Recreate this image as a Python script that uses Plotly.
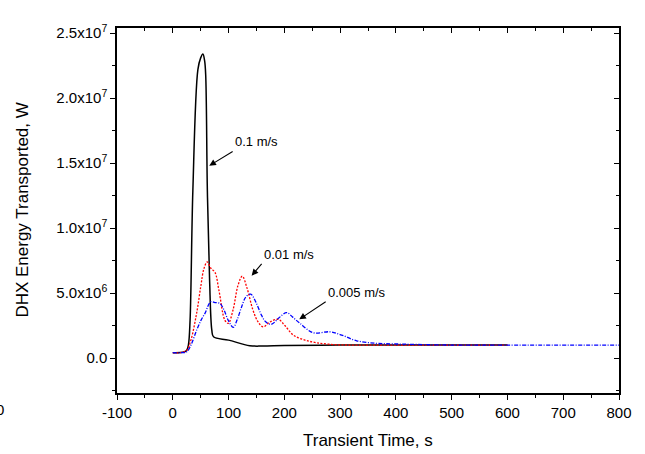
import plotly.graph_objects as go

# ---- data ----
t_01 = [0, 20, 25, 28, 31, 36, 45, 50, 54, 57, 59, 62, 66, 70, 73, 100, 138, 160, 200, 300, 400, 600]
e_01 = [0.41e6, 0.46e6, 0.6e6, 1.0e6, 2.9e6, 12.9e6, 22.2e6, 23.1e6, 23.4e6, 22.9e6, 21.8e6,
        12.9e6, 6.0e6, 2.15e6, 1.64e6, 1.38e6, 0.95e6, 0.92e6, 0.96e6, 1.0e6, 1.0e6, 1.0e6]

t_001 = [0, 13, 25, 32.6, 42.8, 50.5, 56, 61.8, 68.5, 75.6, 82.8, 93.5, 99.5, 108, 117, 124.6,
         133, 143.7, 152.7, 162, 174, 189, 201, 216, 237, 258, 287, 318, 450, 600]
e_001 = [0.41e6, 0.42e6, 0.6e6, 1.4e6, 3.46e6, 5.6e6, 6.9e6, 7.4e6, 6.9e6, 6.6e6, 5.2e6, 2.9e6,
         2.67e6, 3.7e6, 5.6e6, 6.3e6, 5.4e6, 3.7e6, 2.8e6, 2.4e6, 2.77e6, 2.98e6, 2.5e6, 1.77e6,
         1.38e6, 1.18e6, 1.04e6, 1.0e6, 1.0e6, 1.0e6]

t_0005 = [0, 13, 25, 32.6, 42.8, 50.5, 57.7, 68, 75.6, 84.6, 91.8, 99.5, 108.4, 115, 123.5, 131,
          139.6, 149, 159, 167, 177, 190, 204, 215, 228, 251.8, 281.7, 302.7, 329.6, 365.4,
          394.6, 496.8, 600, 800]
e_0005 = [0.41e6, 0.41e6, 0.48e6, 1.0e6, 2.15e6, 2.9e6, 3.44e6, 4.33e6, 4.27e6, 4.2e6, 3.7e6,
          2.9e6, 2.36e6, 2.9e6, 3.95e6, 4.7e6, 4.92e6, 4.3e6, 3.3e6, 2.77e6, 2.6e6, 3.08e6, 3.5e6,
          3.15e6, 2.67e6, 1.95e6, 2.02e6, 1.77e6, 1.33e6, 1.13e6, 1.09e6, 1.0e6, 1.0e6, 1.0e6]

x_ticks = [-100, 0, 100, 200, 300, 400, 500, 600, 700, 800]
x_tick_labels = ["-100", "0", "100", "200", "300", "400", "500", "600", "700", "800"]
y_ticks = [0, 5e6, 1e7, 1.5e7, 2e7, 2.5e7]
y_tick_labels = ["0.0", "5.0x10<sup>6</sup>", "1.0x10<sup>7</sup>", "1.5x10<sup>7</sup>",
                 "2.0x10<sup>7</sup>", "2.5x10<sup>7</sup>"]
x_range = [-100, 800]
y_range = [-2.69e6, 2.54e7]

labels = ["0.1 m/s", "0.01 m/s", "0.005 m/s"]
arrow_head = [(65.4, 14.8e6), (141.4, 6.34e6), (226.8, 2.98e6)]

FONT = "Liberation Sans, Arial, sans-serif"

fig = go.Figure()
fig.add_trace(go.Scatter(x=t_01, y=e_01, mode="lines", line=dict(color="black", width=1.5),
                         line_shape="spline", showlegend=False))
fig.add_trace(go.Scatter(x=t_001, y=e_001, mode="lines",
                         line=dict(color="#ff0000", width=1.3, dash="2px,1.5px"),
                         line_shape="spline", showlegend=False))
fig.add_trace(go.Scatter(x=t_0005, y=e_0005, mode="lines",
                         line=dict(color="#0000ff", width=1.3, dash="4px,1.5px,1px,1.5px"),
                         line_shape="spline", showlegend=False))
# dummy trace for mirrored top/right axes
fig.add_trace(go.Scatter(x=[], y=[], xaxis="x2", yaxis="y2", showlegend=False))

x_minor = [v + 50 for v in x_ticks[:-1]]
y_minor = [-2.5e6] + [v + 2.5e6 for v in y_ticks]

common = dict(showgrid=False, zeroline=False, linecolor="black", linewidth=1.5,
              tickcolor="black", tickwidth=1.2)
fig.update_layout(
    width=645, height=454,
    margin=dict(l=117, r=26, t=28, b=61),
    paper_bgcolor="white", plot_bgcolor="white",
    font=dict(family=FONT, size=15, color="black"),
    xaxis=dict(range=x_range, tickmode="array", tickvals=x_ticks, ticktext=x_tick_labels,
               ticks="outside", ticklen=5,
               minor=dict(tickvals=x_minor, ticks="outside", ticklen=3, tickcolor="black"),
               showline=True, **common),
    yaxis=dict(range=y_range, tickmode="array", tickvals=y_ticks, ticktext=y_tick_labels,
               ticks="outside", ticklen=5,
               minor=dict(tickvals=y_minor, ticks="outside", ticklen=3, tickcolor="black"),
               showline=True, **common),
    xaxis2=dict(range=x_range, overlaying="x", side="top", tickmode="array", tickvals=x_ticks,
                ticks="inside", ticklen=5, showticklabels=False,
                minor=dict(tickvals=x_minor, ticks="inside", ticklen=3, tickcolor="black"),
                showline=True, **common),
    yaxis2=dict(range=y_range, overlaying="y", side="right", tickmode="array", tickvals=y_ticks,
                ticks="inside", ticklen=5, showticklabels=False,
                minor=dict(tickvals=y_minor, ticks="inside", ticklen=3, tickcolor="black"),
                showline=True, **common),
)

# axis titles
fig.add_annotation(text="Transient Time, s", xref="paper", yref="paper", x=0.5, y=-0.129,
                   showarrow=False, font=dict(size=17), xanchor="center", yanchor="middle")
fig.add_annotation(text="DHX Energy Transported, W", xref="paper", yref="paper", x=-0.189, y=0.5,
                   showarrow=False, font=dict(size=17), textangle=-90,
                   xanchor="center", yanchor="middle")
# stray clipped label at the left edge
fig.add_annotation(text="0", xref="paper", yref="paper", x=-0.233, y=-0.045, showarrow=False,
                   font=dict(size=15), xanchor="center", yanchor="middle")

# labels with arrows (text box sits at the arrow tail)
arrow_tail_px = [(23.4, -14.3), (10, -11.7), (26.4, -17.6)]
for txt, (hx, hy), (ax, ay) in zip(labels, arrow_head, arrow_tail_px):
    fig.add_annotation(text=txt, x=hx, y=hy, ax=ax, ay=ay, showarrow=True, arrowhead=2,
                       arrowsize=1.2, arrowwidth=1.1, arrowcolor="black",
                       xanchor="left", yanchor="bottom", borderpad=1,
                       font=dict(size=13))

fig.write_html("out.html")
